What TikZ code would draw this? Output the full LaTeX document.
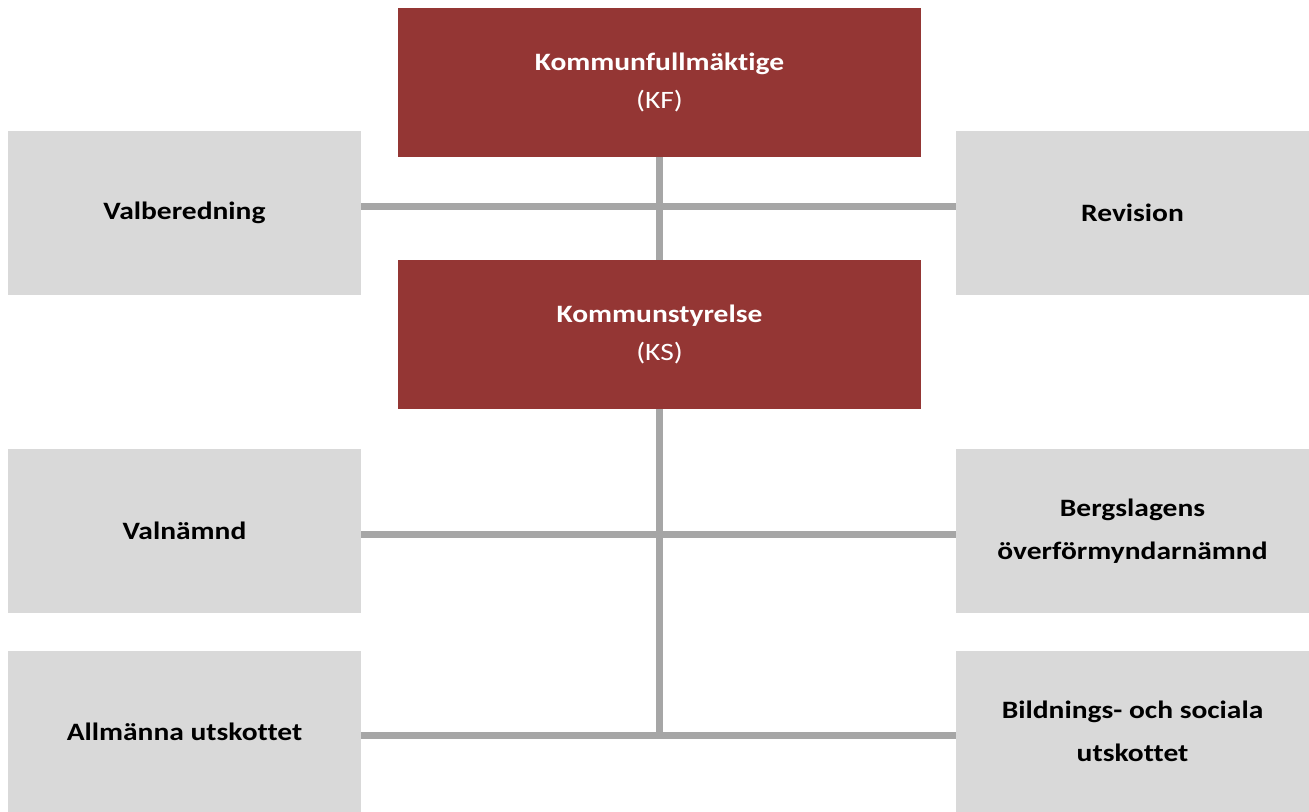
\documentclass[tikz,border=0pt]{standalone}
\usepackage{fontspec}
\setmainfont{Carlito}[FakeStretch=1.18, Ligatures=CommonOff]
\definecolor{ksred}{HTML}{943634}
\definecolor{boxgray}{HTML}{D9D9D9}
\definecolor{linegray}{HTML}{A6A6A6}

\begin{document}
\begin{tikzpicture}[x=0.75pt, y=-0.75pt,
		council/.style={rectangle, fill=ksred, text=white, minimum width=392.25pt, minimum height=111.75pt, align=center, inner sep=0pt, font=\fontsize{18.75}{28}\selectfont},
		board/.style={rectangle, fill=boxgray, text=black, minimum width=264.75pt, minimum height=123pt, align=center, inner sep=0pt, font=\bfseries\fontsize{18.75}{32}\selectfont},
		link/.style={draw=linegray, line width=5.25pt}]
				\useasboundingbox (0,0) rectangle (1309,812);
				\node[council] (KF)at(659.5, 82.5) {\textbf{Kommunfullmäktige}\\(KF)};
				\node[council] (KS)at(659.5, 334.5) {\textbf{Kommunstyrelse}\\(KS)};
				\node[board] (Val)at(184.5, 213) {Valberedning};
				\node[board] (Rev)at(1132.5, 213) {Revision};
				\node[board] (Vn)at(184.5, 531) {Valnämnd};
				\node[board] (Bo)at(1132.5, 531) {Bergslagens\\överförmyndarnämnd};
				\node[board, minimum height=120.75pt] (Au)at(184.5, 731.5) {Allmänna utskottet};
				\node[board, minimum height=120.75pt] (Bsu)at(1132.5, 731.5) {Bildnings- och sociala\\utskottet};
				\coordinate (j1)at(659.5, 207);
				\coordinate (j2)at(659.5, 534);
				\coordinate (j3)at(659.5, 735);
				\draw[link] (KF.south) -- (KS.north);
				\draw[link] (KS.south) -- (j3);
				\draw[link] (Val.east |- j1) -- (Rev.west |- j1);
				\draw[link] (Vn.east |- j2) -- (Bo.west |- j2);
				\draw[link] (Au.east |- j3) -- (Bsu.west |- j3);
		\end{tikzpicture}
\end{document}
